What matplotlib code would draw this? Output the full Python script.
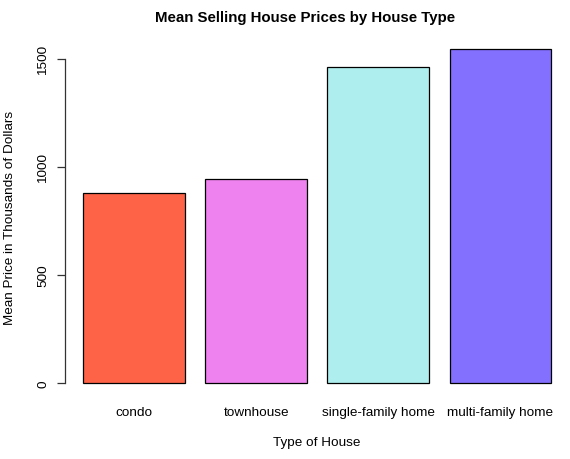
import matplotlib
matplotlib.use("Agg")
import matplotlib.pyplot as plt

categories = ["condo", "townhouse", "single-family home", "multi-family home"]
prices = [882, 944, 1466, 1549]
colors = ["#FF6347", "#EE82EE", "#AFEEEE", "#8470FF"]
yticks = [0, 500, 1000, 1500]

plt.rcParams['font.family'] = ['Liberation Sans', 'DejaVu Sans']

fig = plt.figure(figsize=(5.7, 4.6), dpi=100)
ax = fig.add_axes([0.1133, 0.136, 0.8867, 0.785])

xs = [0.7 + 1.2 * i for i in range(len(categories))]
ax.bar(xs, prices, width=1.0, color=colors, edgecolor="black", linewidth=0.9)

ax.set_xlim(0.016, 4.984)
ymax = max(prices)
ax.set_ylim(-0.04 * ymax, 1.04 * ymax)

for s in ["top", "right", "bottom"]:
    ax.spines[s].set_visible(False)
ax.spines["left"].set_bounds(0, 1500)
ax.spines["left"].set_linewidth(0.9)
ax.spines["left"].set_color("#333333")

ax.set_yticks(yticks)
ax.set_yticklabels([str(t) for t in yticks], rotation=90, va="center", fontsize=9.7)
ax.tick_params(axis="y", length=6, width=0.9, pad=5, color="#333333")
ax.set_xticks(xs)
ax.set_xticklabels(categories, fontsize=9.7)
ax.tick_params(axis="x", length=0, pad=7)

fig.text(0.555, 1 - 443 / 460, "Type of House", fontsize=9.7, ha="center", va="center")
fig.text(10 / 570, 1 - 218 / 460, "Mean Price in Thousands of Dollars", fontsize=9.7,
         rotation=90, ha="center", va="center")
fig.text(305 / 570, 1 - 18 / 460, "Mean Selling House Prices by House Type",
         fontsize=10.8, fontweight="bold", ha="center", va="center")

fig.savefig("out.png", dpi=100)
